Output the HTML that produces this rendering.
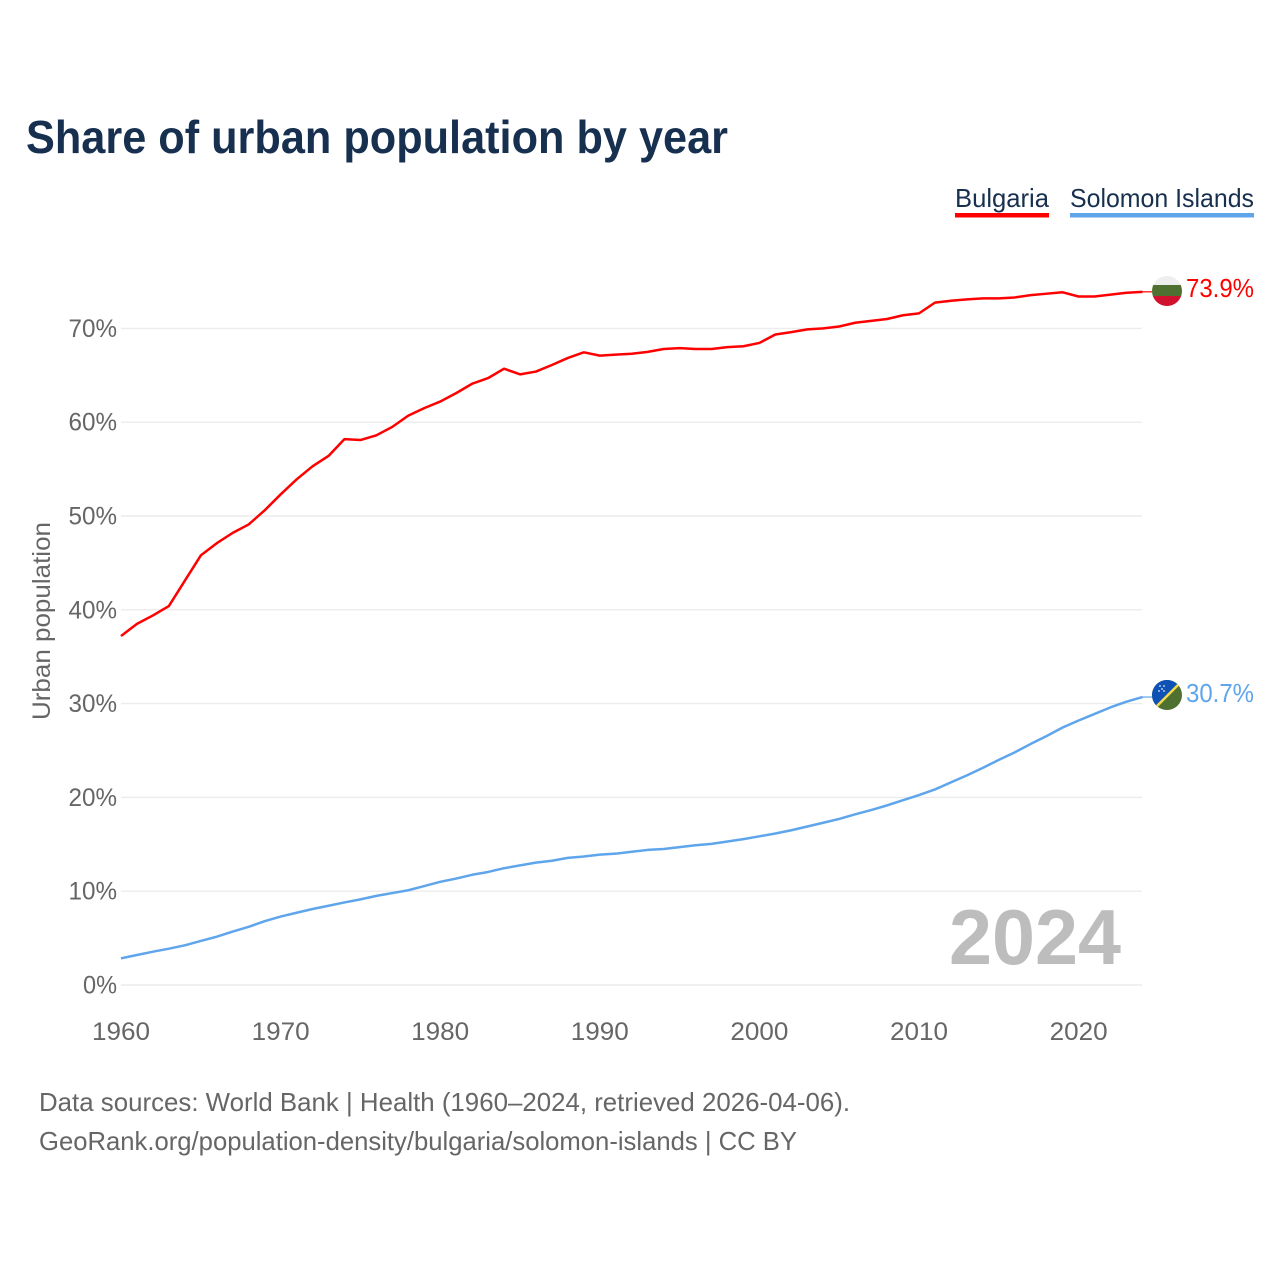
<!DOCTYPE html>
<html lang="en">
<head>
<meta charset="utf-8">
<title>Share of urban population by year</title>
<style>
html,body{margin:0;padding:0;background:#fff;width:1280px;height:1280px;overflow:hidden}
svg{display:block}
text{font-family:"Liberation Sans",sans-serif}
</style>
</head>
<body>
<svg id="chart" width="1280" height="1280" viewBox="0 0 1280 1280" xmlns="http://www.w3.org/2000/svg">
  <defs>
    <clipPath id="flag-clip-bg"><circle cx="1167" cy="291" r="15"/></clipPath>
    <clipPath id="flag-clip-sb"><circle cx="1167" cy="695" r="15"/></clipPath>
  </defs>
  <rect width="1280" height="1280" fill="#fff"/>
  <text x="26" y="153" font-size="46" font-weight="700" fill="#17304f" textLength="702" lengthAdjust="spacingAndGlyphs">Share of urban population by year</text>

  <g>
    <g>
      <text x="955" y="207" font-size="26" fill="#17304f" textLength="94" lengthAdjust="spacingAndGlyphs">Bulgaria</text>
      <rect x="955" y="213" width="94" height="4.5" fill="#ff0000"/>
    </g>
    <g>
      <text x="1070" y="207" font-size="26" fill="#17304f" textLength="184" lengthAdjust="spacingAndGlyphs">Solomon Islands</text>
      <rect x="1070" y="213" width="184" height="4.5" fill="#5fa5ec"/>
    </g>
  </g>

  <text transform="translate(50,621) rotate(-90)" text-anchor="middle" font-size="25" fill="#666" textLength="198" lengthAdjust="spacingAndGlyphs">Urban population</text>

  <g id="grid"></g>
  <g id="y-ticks"></g>
  <g id="x-ticks"></g>

  <text x="949" y="964" font-size="78" font-weight="700" fill="#bdbdbd" textLength="172" lengthAdjust="spacingAndGlyphs">2024</text>

  <g id="series"></g>

  <g clip-path="url(#flag-clip-bg)">
    <rect x="1152" y="276" width="30" height="10" fill="#eeeeee"/>
    <rect x="1152" y="285" width="30" height="11" fill="#4e7030"/>
    <rect x="1152" y="296" width="30" height="10" fill="#d0122f"/>
  </g>
  <g clip-path="url(#flag-clip-sb)">
    <rect x="1152" y="680" width="30" height="30" fill="#4e7030"/>
    <polygon points="1152,680 1182,680 1152,710" fill="#0f51b5"/>
    <line x1="1154" y1="709" x2="1180" y2="683" stroke="#f5d94a" stroke-width="2.6"/>
    <g fill="#dfe8f5">
      <circle cx="1160" cy="686" r="0.9"/><circle cx="1164" cy="686" r="0.9"/><circle cx="1162" cy="689" r="0.9"/>
      <circle cx="1159" cy="691" r="0.9"/><circle cx="1164" cy="691" r="0.9"/>
    </g>
  </g>

  <text id="label-bg" x="1186" y="297" font-size="26" fill="#ff0000" textLength="68" lengthAdjust="spacingAndGlyphs"></text>
  <text id="label-sb" x="1186" y="702" font-size="26" fill="#5fa5ec" textLength="68" lengthAdjust="spacingAndGlyphs"></text>

  <text x="39" y="1111" font-size="26" fill="#666" textLength="811" lengthAdjust="spacingAndGlyphs">Data sources: World Bank | Health (1960–2024, retrieved 2026-04-06).</text>
  <text x="39" y="1150" font-size="26" fill="#666" textLength="758" lengthAdjust="spacingAndGlyphs">GeoRank.org/population-density/bulgaria/solomon-islands | CC BY</text>
</svg>
<script>
const startYear = 1960;
const xTickLabels = ['1960','1970','1980','1990','2000','2010','2020'];
const yTickValues = [0,10,20,30,40,50,60,70];
const bulgaria = [37.2,38.5,39.4,40.4,43.1,45.8,47.1,48.2,49.1,50.6,52.3,53.9,55.3,56.4,58.2,58.1,58.6,59.5,60.7,61.5,62.2,63.1,64.1,64.7,65.7,65.1,65.4,66.1,66.85,67.45,67.1,67.2,67.3,67.5,67.8,67.9,67.8,67.8,68.0,68.1,68.45,69.35,69.6,69.9,70.0,70.2,70.6,70.8,71.0,71.4,71.6,72.75,72.95,73.1,73.2,73.2,73.3,73.55,73.7,73.85,73.4,73.4,73.6,73.8,73.9];
const solomonIslands = [2.84,3.2,3.55,3.87,4.23,4.7,5.15,5.7,6.2,6.8,7.3,7.7,8.1,8.45,8.8,9.13,9.5,9.8,10.1,10.55,11.0,11.35,11.75,12.05,12.45,12.75,13.05,13.25,13.55,13.7,13.9,14.0,14.2,14.4,14.5,14.7,14.9,15.05,15.3,15.55,15.85,16.15,16.5,16.9,17.3,17.7,18.2,18.65,19.15,19.7,20.25,20.85,21.6,22.35,23.15,24.0,24.8,25.7,26.55,27.45,28.2,28.9,29.6,30.2,30.7];

const NS = 'http://www.w3.org/2000/svg';
const xScale = function (year) { return 121 + (year - startYear) * 15.96; };
const yScale = function (pct) { return 985 - pct * 9.38; };
const plotRight = 1142;
const connectorEnd = 1152;

function make(tag, parent) {
  const el = document.createElementNS(NS, tag);
  parent.appendChild(el);
  return el;
}

const gridGroup = document.getElementById('grid');
const yTickGroup = document.getElementById('y-ticks');
yTickValues.forEach(function (v) {
  const line = make('line', gridGroup);
  
  
  line.setAttribute('x1', 121);
  line.setAttribute('x2', plotRight);
  line.setAttribute('y1', yScale(v));
  line.setAttribute('y2', yScale(v));
  line.setAttribute('stroke', '#ececec');
  line.setAttribute('stroke-width', '1.4');

  const label = make('text', yTickGroup);
  
  
  const str = v + '%';
  label.textContent = str;
  label.setAttribute('x', 117);
  label.setAttribute('y', yScale(v) + 8.5);
  label.setAttribute('text-anchor', 'end');
  label.setAttribute('font-size', '25');
  label.setAttribute('fill', '#666');
  label.setAttribute('textLength', (str.length - 1) * 14.5 + 19.5);
  label.setAttribute('lengthAdjust', 'spacingAndGlyphs');
});

const xTickGroup = document.getElementById('x-ticks');
xTickLabels.forEach(function (t) {
  const label = make('text', xTickGroup);
  
  
  label.textContent = t;
  label.setAttribute('x', xScale(Number(t)));
  label.setAttribute('y', 1040);
  label.setAttribute('text-anchor', 'middle');
  label.setAttribute('font-size', '25');
  label.setAttribute('fill', '#666');
  label.setAttribute('textLength', '58');
  label.setAttribute('lengthAdjust', 'spacingAndGlyphs');
});

const seriesGroup = document.getElementById('series');
function drawSeries(values, color) {
  const pts = values.map(function (v, i) {
    return xScale(startYear + i).toFixed(2) + ',' + yScale(v).toFixed(2);
  }).join(' ');
  const poly = make('polyline', seriesGroup);
  
  
  poly.setAttribute('points', pts);
  poly.setAttribute('fill', 'none');
  poly.setAttribute('stroke', color);
  poly.setAttribute('stroke-width', '2.5');
  poly.setAttribute('stroke-linejoin', 'round');

  const last = values[values.length - 1];
  const conn = make('line', seriesGroup);
  
  
  conn.setAttribute('x1', plotRight);
  conn.setAttribute('x2', connectorEnd);
  conn.setAttribute('y1', yScale(last));
  conn.setAttribute('y2', yScale(last));
  conn.setAttribute('stroke', color);
  conn.setAttribute('stroke-width', '1.2');
}
drawSeries(bulgaria, '#ff0000');
drawSeries(solomonIslands, '#5fa5ec');

document.getElementById('label-bg').textContent = bulgaria[bulgaria.length - 1].toFixed(1) + '%';
document.getElementById('label-sb').textContent = solomonIslands[solomonIslands.length - 1].toFixed(1) + '%';
</script>
</body>
</html>
